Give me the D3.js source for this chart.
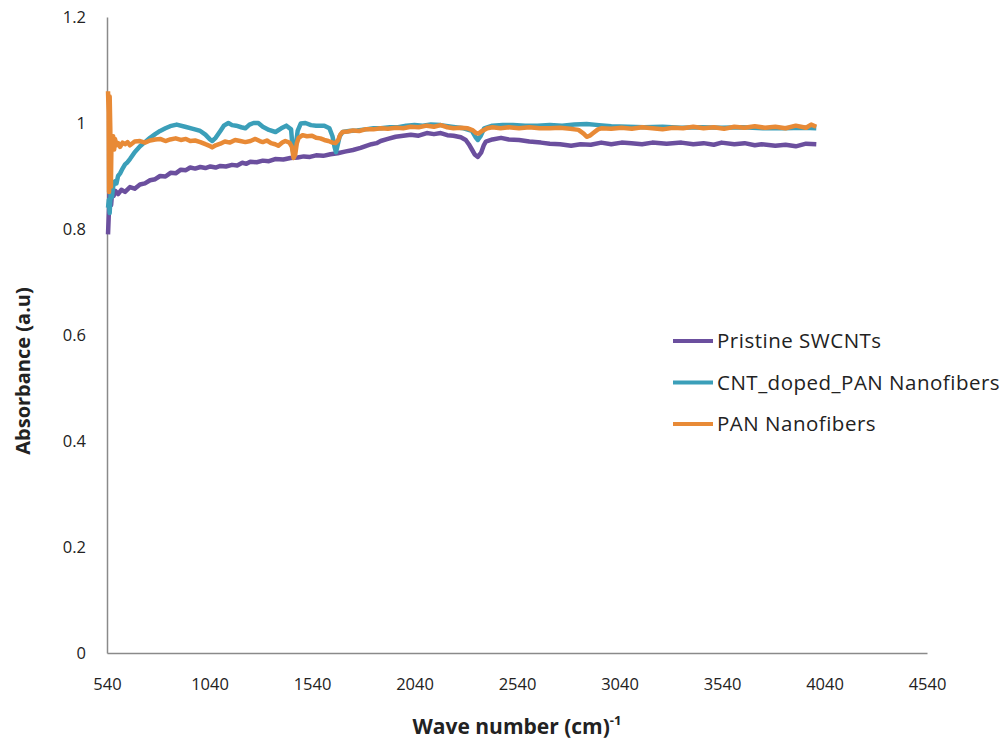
<!DOCTYPE html>
<html>
<head>
<meta charset="utf-8">
<script src="https://cdn.jsdelivr.net/npm/d3@7"></script>
<style>
body { margin: 0; background: #fff; }
text { font-family: "Open Sans", sans-serif; fill: #222; }
</style>
</head>
<body>
<svg></svg>
<script>
const width = 1007;
const height = 743;

// wave number / absorbance pairs
const pristine = [
[545,0.79],[549,0.83],[553,0.87],[560,0.845],[566,0.875],[572,0.862],[580,0.872],[594,0.866],[610,0.874],[628,0.87],[652,0.879],[675,0.876],[701,0.884],[725,0.886],[750,0.892],[775,0.894],[799,0.9],[825,0.899],[850,0.906],[875,0.905],[900,0.912],[925,0.911],[946,0.916],[970,0.914],[995,0.917],[1020,0.915],[1044,0.918],[1070,0.916],[1093,0.919],[1120,0.918],[1150,0.921],[1175,0.92],[1200,0.925],[1220,0.923],[1239,0.927],[1270,0.926],[1300,0.929],[1330,0.928],[1360,0.932],[1400,0.931],[1435,0.934],[1470,0.935],[1500,0.937],[1530,0.936],[1560,0.939],[1595,0.938],[1630,0.941],[1665,0.943],[1700,0.946],[1740,0.949],[1777,0.953],[1805,0.957],[1830,0.96],[1855,0.962],[1875,0.966],[1910,0.97],[1948,0.974],[1985,0.976],[2022,0.978],[2060,0.976],[2100,0.981],[2135,0.979],[2168,0.981],[2200,0.977],[2230,0.976],[2266,0.973],[2290,0.968],[2305,0.96],[2320,0.95],[2335,0.94],[2349,0.936],[2365,0.944],[2378,0.958],[2388,0.965],[2420,0.969],[2462,0.972],[2500,0.969],[2550,0.968],[2600,0.965],[2657,0.963],[2700,0.961],[2750,0.96],[2804,0.957],[2850,0.96],[2900,0.959],[2951,0.963],[3000,0.96],[3050,0.963],[3098,0.962],[3150,0.96],[3200,0.963],[3270,0.961],[3342,0.963],[3400,0.96],[3450,0.962],[3500,0.959],[3538,0.963],[3600,0.96],[3650,0.962],[3700,0.958],[3733,0.96],[3800,0.957],[3850,0.959],[3900,0.956],[3950,0.961],[4000,0.96]
];
const cntDoped = [
[545,0.84],[549,0.855],[553,0.83],[558,0.87],[564,0.86],[570,0.88],[579,0.89],[586,0.886],[594,0.9],[604,0.905],[616,0.914],[628,0.922],[640,0.926],[652,0.932],[675,0.945],[701,0.956],[725,0.964],[750,0.972],[775,0.979],[799,0.985],[825,0.99],[848,0.994],[880,0.997],[921,0.993],[960,0.989],[995,0.985],[1020,0.978],[1040,0.97],[1053,0.966],[1070,0.972],[1093,0.985],[1110,0.995],[1132,1.0],[1150,0.996],[1170,0.995],[1195,0.992],[1215,0.99],[1235,0.997],[1255,1.0],[1278,1.0],[1300,0.993],[1330,0.987],[1362,0.983],[1390,0.99],[1415,0.995],[1438,0.988],[1446,0.95],[1452,0.936],[1460,0.955],[1470,0.985],[1485,0.999],[1508,1.0],[1535,0.996],[1560,0.995],[1600,0.995],[1625,0.99],[1640,0.975],[1650,0.955],[1657,0.945],[1665,0.958],[1675,0.975],[1690,0.983],[1720,0.985],[1760,0.986],[1800,0.988],[1840,0.99],[1875,0.99],[1920,0.992],[1960,0.992],[2000,0.995],[2040,0.996],[2080,0.995],[2120,0.997],[2168,0.996],[2220,0.993],[2280,0.99],[2320,0.985],[2340,0.972],[2349,0.968],[2362,0.975],[2380,0.99],[2420,0.995],[2470,0.996],[2520,0.996],[2580,0.995],[2640,0.995],[2700,0.996],[2760,0.995],[2820,0.997],[2880,0.998],[2940,0.996],[3000,0.994],[3080,0.993],[3160,0.992],[3250,0.993],[3340,0.991],[3440,0.992],[3540,0.991],[3640,0.992],[3740,0.99],[3840,0.99],[3940,0.991],[4000,0.99]
];
const panFibers = [
[545,1.06],[548,1.02],[550,0.87],[553,1.05],[556,0.99],[559,0.88],[562,0.97],[566,0.955],[570,0.975],[575,0.95],[579,0.97],[586,0.958],[594,0.962],[604,0.955],[616,0.963],[628,0.96],[640,0.964],[652,0.958],[675,0.965],[701,0.966],[725,0.963],[750,0.967],[775,0.969],[799,0.97],[825,0.966],[848,0.969],[875,0.971],[900,0.968],[925,0.97],[946,0.966],[970,0.967],[995,0.964],[1020,0.96],[1040,0.957],[1053,0.954],[1070,0.958],[1093,0.961],[1115,0.965],[1140,0.963],[1165,0.968],[1190,0.966],[1215,0.964],[1240,0.966],[1264,0.97],[1285,0.966],[1300,0.964],[1320,0.967],[1340,0.962],[1360,0.96],[1376,0.957],[1395,0.963],[1410,0.966],[1430,0.963],[1442,0.955],[1450,0.934],[1458,0.94],[1466,0.962],[1475,0.972],[1494,0.977],[1515,0.975],[1540,0.976],[1560,0.972],[1580,0.971],[1600,0.968],[1620,0.966],[1640,0.963],[1655,0.962],[1668,0.968],[1678,0.978],[1689,0.983],[1715,0.984],[1740,0.986],[1770,0.985],[1800,0.988],[1840,0.988],[1875,0.99],[1910,0.989],[1950,0.991],[1985,0.99],[2022,0.993],[2060,0.992],[2100,0.995],[2135,0.993],[2168,0.996],[2200,0.992],[2230,0.99],[2265,0.991],[2300,0.99],[2325,0.986],[2340,0.981],[2352,0.98],[2370,0.985],[2395,0.99],[2420,0.992],[2460,0.99],[2500,0.992],[2550,0.99],[2600,0.992],[2650,0.99],[2700,0.99],[2750,0.991],[2800,0.989],[2840,0.987],[2865,0.98],[2880,0.974],[2895,0.976],[2915,0.982],[2935,0.988],[2951,0.99],[3000,0.989],[3050,0.991],[3100,0.989],[3150,0.992],[3200,0.99],[3250,0.988],[3300,0.991],[3350,0.99],[3400,0.993],[3450,0.99],[3500,0.992],[3550,0.989],[3600,0.993],[3650,0.991],[3700,0.994],[3750,0.991],[3800,0.993],[3850,0.99],[3900,0.995],[3950,0.991],[3975,0.997],[4000,0.993]
];

const seriesNames = ["Pristine SWCNTs", "CNT_doped_PAN Nanofibers", "PAN Nanofibers"];
const seriesColors = ["#6b4f9e", "#3b9fb9", "#e88a36"];
const seriesData = [pristine, cntDoped, panFibers];

const xTicks = [540, 1040, 1540, 2040, 2540, 3040, 3540, 4040, 4540];
const yTicks = [0, 0.2, 0.4, 0.6, 0.8, 1, 1.2];

const margin = {left: 107, right: 80, top: 17, bottom: 90};

const svg = d3.select('svg')
    .attr('width', width).attr('height', height);

const x = d3.scaleLinear()
    .domain([540, 4540])
    .range([margin.left, width - margin.right]);
const y = d3.scaleLinear()
    .domain([0, 1.2])
    .range([height - margin.bottom, margin.top]);

// axes, no tick marks like the original
const xAxis = svg.append('g')
    .attr('transform', `translate(0,${y(0)})`)
    .call(d3.axisBottom(x).tickValues(xTicks).tickSize(0).tickPadding(25).tickFormat(d3.format('d')));
const yAxis = svg.append('g')
    .attr('transform', `translate(${x(540)},0)`)
    .call(d3.axisLeft(y).tickValues(yTicks).tickSize(0).tickPadding(21).tickFormat(d => d));

[xAxis, yAxis].forEach(a => {
    a.select('.domain').attr('stroke', '#8a8a8a').attr('stroke-width', 1.5);
    a.selectAll('text').style('font-size', '16.5px').style('fill', '#222')
        .style('font-family', '"Open Sans", sans-serif');
});

// lines
const line = d3.line()
    .x(d => x(d[0]))
    .y(d => y(d[1]));

seriesData.forEach((data, i) => {
    svg.append('path')
        .datum(data)
        .attr('fill', 'none')
        .attr('stroke', seriesColors[i])
        .attr('stroke-width', 4.5)
        .attr('stroke-linejoin', 'round')
        .attr('d', line);
});

// legend
const legend = svg.append('g').attr('transform', 'translate(673,341)');
seriesNames.forEach((name, i) => {
    const g = legend.append('g').attr('transform', `translate(0,${i * 41.5})`);
    g.append('line')
        .attr('x1', 0).attr('x2', 40)
        .attr('stroke', seriesColors[i]).attr('stroke-width', 4);
    g.append('text')
        .attr('x', 44).attr('y', 7)
        .style('font-size', '20.5px')
        .style('letter-spacing', '0.5px')
        .text(name);
});

// axis titles
svg.append('text')
    .attr('transform', 'translate(30,371) rotate(-90)')
    .attr('text-anchor', 'middle')
    .style('font-size', '20px')
    .style('font-weight', 'bold')
    .text('Absorbance (a.u)');

const xTitle = svg.append('text')
    .attr('x', 517)
    .attr('y', 734)
    .attr('text-anchor', 'middle')
    .style('font-size', '21px')
    .style('font-weight', 'bold');
xTitle.append('tspan').text('Wave number (cm)');
xTitle.append('tspan').attr('dy', -9).style('font-size', '13px').text('-1');
</script>
</body>
</html>
